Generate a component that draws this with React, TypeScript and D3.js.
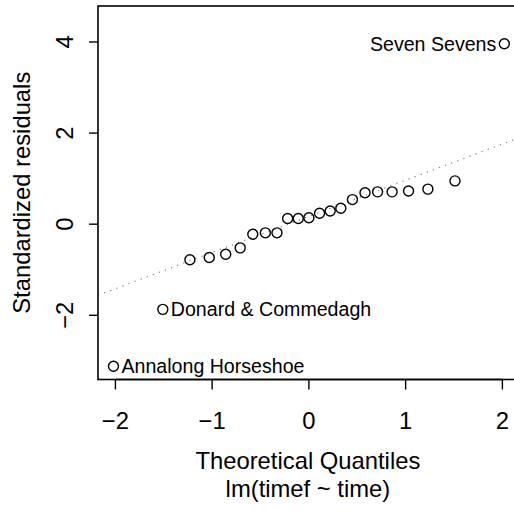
import React from "react";
import * as d3 from "d3";

const theoreticalQuantiles = [-2.02, -1.51, -1.23, -1.03, -0.86, -0.71, -0.58, -0.45, -0.33, -0.22, -0.11, 0, 0.11, 0.22, 0.33, 0.45, 0.58, 0.71, 0.86, 1.03, 1.23, 1.51, 2.02];
const stdResiduals = [-3.12, -1.87, -0.78, -0.73, -0.66, -0.52, -0.22, -0.19, -0.19, 0.125, 0.125, 0.14, 0.24, 0.29, 0.35, 0.54, 0.69, 0.71, 0.71, 0.73, 0.77, 0.95, 3.96];
const pointLabels: { index: number; text: string; side: "left" | "right" }[] = [
  { index: 0, text: "Annalong Horseshoe", side: "right" },
  { index: 1, text: "Donard & Commedagh", side: "right" },
  { index: 22, text: "Seven Sevens", side: "left" },
];
const xTicks = [-2, -1, 0, 1, 2];
const yTicks = [-2, 0, 2, 4];
const xDomain = [-2.18, 2.18];
const yDomain = [-3.41, 4.79];
const lineIntercept = 0.172;
const lineSlope = 0.794;
const xTitle = "Theoretical Quantiles";
const yTitle = "Standardized residuals";
const subTitle = "lm(timef ~ time)";

const W = 514;
const H = 511;
const left = 98;
const top = 6;
const right = 519.8;
const bottom = 379.5;
const font = "'Liberation Sans', Arial, Helvetica, sans-serif";
const fsMain = 23.8;
const fsLab = 19.6;

export default function App() {
  const x = d3.scaleLinear().domain(xDomain).range([left, right]);
  const y = d3.scaleLinear().domain(yDomain).range([bottom, top]);
  const fmt = (v: number) => (v < 0 ? "\u2212" + Math.abs(v) : String(v));
  const lineGen = d3
    .line<number>()
    .x((d) => x(d))
    .y((d) => y(lineIntercept + lineSlope * d));
  return (
    <svg width={W} height={H} style={{ position: "absolute", left: 0, top: 0, background: "#fff" }} fontFamily={font}>
      <defs>
        <clipPath id="plotclip">
          <rect x={left} y={top} width={right - left} height={bottom - top} />
        </clipPath>
      </defs>
      <rect x={0} y={0} width={W} height={H} fill="#fff" />
      <path
        d={lineGen(xDomain) || ""}
        stroke="#808080"
        strokeWidth={1.2}
        strokeDasharray="1.2 5.3"
        fill="none"
        clipPath="url(#plotclip)"
      />
      {theoreticalQuantiles.map((q, i) => (
        <circle key={i} cx={x(q)} cy={y(stdResiduals[i])} r={5} fill="none" stroke="#000" strokeWidth={1.4} />
      ))}
      {pointLabels.map((l) => (
        <text
          key={l.index}
          x={x(theoreticalQuantiles[l.index]) + (l.side === "right" ? 8 : -8)}
          y={y(stdResiduals[l.index])}
          dy="0.35em"
          textAnchor={l.side === "right" ? "start" : "end"}
          fontSize={fsLab}
        >
          {l.text}
        </text>
      ))}
      <rect x={left} y={top} width={right - left} height={bottom - top} fill="none" stroke="#000" strokeWidth={1.6} />
      {xTicks.map((t) => (
        <g key={t}>
          <line x1={x(t)} x2={x(t)} y1={bottom} y2={bottom + 10} stroke="#000" strokeWidth={1.4} />
          <text x={x(t)} y={429} textAnchor="middle" fontSize={fsMain}>
            {fmt(t)}
          </text>
        </g>
      ))}
      <line x1={x(xTicks[0])} x2={x(xTicks[xTicks.length - 1])} y1={bottom} y2={bottom} stroke="#000" strokeWidth={1.4} />
      {yTicks.map((t) => (
        <g key={t}>
          <line x1={left - 9} x2={left} y1={y(t)} y2={y(t)} stroke="#000" strokeWidth={1.4} />
          <text transform={`translate(73,${y(t)}) rotate(-90)`} textAnchor="middle" fontSize={fsMain}>
            {fmt(t)}
          </text>
        </g>
      ))}
      <text x={(left + right) / 2 - 1} y={469} textAnchor="middle" fontSize={fsMain}>
        {xTitle}
      </text>
      <text x={(left + right) / 2 - 1} y={497} textAnchor="middle" fontSize={fsMain}>
        {subTitle}
      </text>
      <text transform={`translate(30,${(top + bottom) / 2}) rotate(-90)`} textAnchor="middle" fontSize={fsMain}>
        {yTitle}
      </text>
    </svg>
  );
}
